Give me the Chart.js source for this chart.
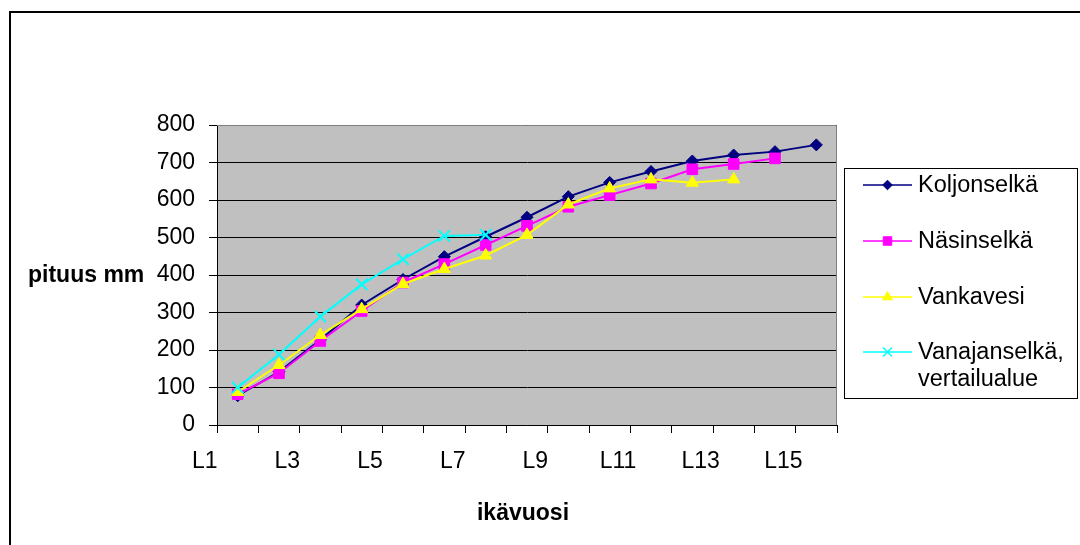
<!DOCTYPE html>
<html>
<head>
<meta charset="utf-8">
<script src="https://cdn.jsdelivr.net/npm/chart.js@4.4.1/dist/chart.umd.min.js"></script>
<style>
  html, body { margin: 0; padding: 0; background: #ffffff; }
  #wrap { width: 1080px; height: 545px; }
</style>
</head>
<body>
<div id="wrap"><canvas id="c" width="1080" height="545"></canvas></div>
<script>
// Age classes (ikävuosi) on the category axis
const ageLabels = ['L1', 'L2', 'L3', 'L4', 'L5', 'L6', 'L7', 'L8', 'L9', 'L10', 'L11', 'L12', 'L13', 'L14', 'L15'];

// Series names
const seriesNames = ['Koljonselkä', 'Näsinselkä', 'Vankavesi', 'Vanajanselkä,\nvertailualue'];

// Mean length (mm) by age class for each area
const koljonselka  = [78, 142, 227, 320, 388, 449, 502, 554, 609, 647, 676, 704, 720, 729, 747];
const nasinselka   = [82, 138, 224, 304, 380, 429, 480, 531, 582, 613, 644, 682, 696, 711];
const vankavesi    = [88, 160, 240, 309, 376, 416, 452, 507, 588, 631, 655, 646, 655];
const vanajanselka = [100, 188, 289, 375, 442, 504, 507];

// Value axis range
const yMin = 0;
const yMax = 800;
const yStep = 100;

const yTitle = 'pituus mm';
const xTitle = 'ikävuosi';

const FONT = "'Liberation Sans', Arial, sans-serif";

const frame = {
  id: 'frame',
  beforeDraw(chart) {
    const { ctx, chartArea: a } = chart;
    ctx.save();
    ctx.fillStyle = '#ffffff';
    ctx.fillRect(0, 0, chart.width, chart.height);
    ctx.fillStyle = '#c0c0c0';
    ctx.fillRect(a.left, a.top, a.right - a.left, a.bottom - a.top);
    // outer chart border
    ctx.strokeStyle = '#000000';
    ctx.lineWidth = 2;
    ctx.beginPath();
    ctx.moveTo(10, chart.height);
    ctx.lineTo(10, 12);
    ctx.lineTo(chart.width, 12);
    ctx.stroke();
    ctx.restore();
  },
  beforeDatasetsDraw(chart) {
    const { ctx, chartArea: a } = chart;
    ctx.save();
    ctx.strokeStyle = '#808080';
    ctx.lineWidth = 1;
    ctx.beginPath();
    ctx.moveTo(a.left, a.top + 0.5);
    ctx.lineTo(a.right - 0.5, a.top + 0.5);
    ctx.lineTo(a.right - 0.5, a.bottom);
    ctx.stroke();
    ctx.restore();
  },
  afterDraw(chart) {
    const { ctx, chartArea: a } = chart;
    ctx.save();
    ctx.fillStyle = '#000000';
    ctx.font = 'bold 23px ' + FONT;
    ctx.textBaseline = 'alphabetic';
    ctx.textAlign = 'left';
    ctx.fillText(yTitle, 28, 282);
    ctx.textAlign = 'center';
    ctx.fillText(xTitle, (a.left + a.right) / 2 - 4, 520);

    // legend box
    const bx = 844, by = 168, bw = 233, bh = 230;
    ctx.strokeStyle = '#000000';
    ctx.lineWidth = 1;
    ctx.strokeRect(bx + 0.5, by + 0.5, bw, bh);
    const rowY = [185, 241, 297, 352];
    ctx.font = '23.5px ' + FONT;
    ctx.textAlign = 'left';
    chart.data.datasets.forEach((ds, i) => {
      const y = rowY[i];
      ctx.strokeStyle = ds.borderColor;
      ctx.lineWidth = 1.5;
      ctx.beginPath();
      ctx.moveTo(863, y);
      ctx.lineTo(912, y);
      ctx.stroke();
      const cross = ds.pointStyle === 'crossRot';
      ctx.fillStyle = ds.pointBackgroundColor;
      ctx.strokeStyle = ds.pointBorderColor;
      ctx.lineWidth = cross ? 1.5 : 1;
      Chart.helpers.drawPoint(ctx, {
        pointStyle: ds.pointStyle,
        radius: ds.pointRadius * 0.8,
        borderWidth: cross ? 1.5 : 1,
        rotation: 0
      }, 887.5, y);
      ctx.fillStyle = '#000000';
      ds.label.split('\n').forEach((line, k) => {
        ctx.fillText(line, 918, y + 7 + k * 27);
      });
    });
    ctx.restore();
  }
};

function series(label, data, color, style, radius, order) {
  return {
    label, data,
    borderColor: color,
    backgroundColor: color,
    pointBackgroundColor: color,
    pointBorderColor: color,
    pointStyle: style,
    pointRadius: radius,
    pointBorderWidth: style === 'crossRot' ? 2 : 1,
    borderWidth: 2,
    tension: 0,
    fill: false,
    order
  };
}

const datasets = [
  series(seriesNames[0], koljonselka, '#000080', 'rectRot', 6, 4),
  series(seriesNames[1], nasinselka, '#ff00ff', 'rect', 7.5, 3),
  series(seriesNames[2], vankavesi, '#ffff00', 'triangle', 7, 2),
  series(seriesNames[3], vanajanselka, '#00ffff', 'crossRot', 8, 1)
];

new Chart(document.getElementById('c'), {
  type: 'line',
  data: { labels: ageLabels, datasets },
  options: {
    responsive: false,
    animation: false,
    devicePixelRatio: 1,
    layout: { padding: { left: 0, right: 243, top: 125, bottom: 0 } },
    plugins: {
      legend: { display: false },
      tooltip: { enabled: false }
    },
    scales: {
      x: {
        type: 'category',
        offset: true,
        grid: {
          offset: true,
          drawOnChartArea: false,
          drawTicks: true,
          tickLength: 8,
          color: '#000000',
          lineWidth: 1
        },
        border: { color: '#000000', width: 1 },
        ticks: {
          autoSkip: false,
          maxRotation: 0,
          minRotation: 0,
          labelOffset: -33,
          padding: 15,
          color: '#000000',
          font: { family: FONT, size: 23 },
          callback: (v, i) => (i % 2 === 0 ? ageLabels[i] : '')
        },
        afterFit: s => { s.height = 120; }
      },
      y: {
        min: yMin,
        max: yMax,
        grid: {
          color: '#000000',
          lineWidth: 1,
          tickLength: 8,
          drawTicks: true
        },
        border: { color: '#000000', width: 1 },
        ticks: {
          stepSize: yStep,
          padding: 14,
          color: '#000000',
          font: { family: FONT, size: 23 }
        },
        afterFit: s => { s.width = 217; }
      }
    }
  },
  plugins: [frame]
});
</script>
</body>
</html>
